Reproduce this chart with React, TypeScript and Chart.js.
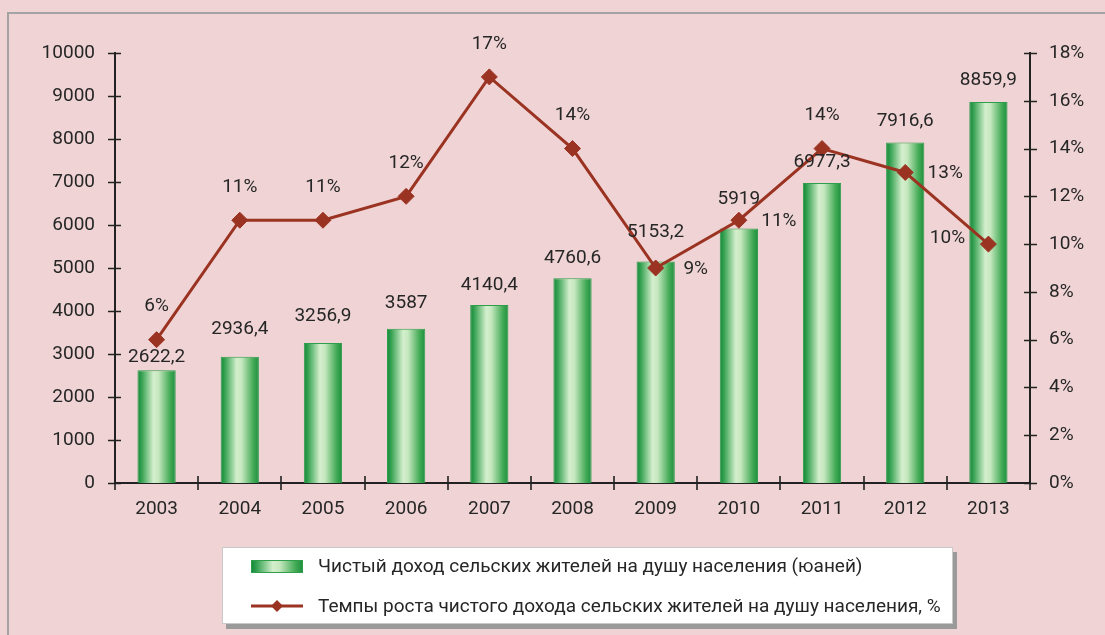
import React, { useEffect, useRef } from 'react';
import { Chart, registerables } from 'chart.js';

Chart.register(...registerables);

// ---------------- data ----------------
const years = ['2003', '2004', '2005', '2006', '2007', '2008', '2009', '2010', '2011', '2012', '2013'];
const incomeValues = [2622.2, 2936.4, 3256.9, 3587, 4140.4, 4760.6, 5153.2, 5919, 6977.3, 7916.6, 8859.9];
const growthValues = [6, 11, 11, 12, 17, 14, 9, 11, 14, 13, 10];
const incomeAxisMax = 10000;
const incomeAxisStep = 1000;
const growthAxisMax = 18;
const growthAxisStep = 2;
const incomeLabel = 'Чистый доход сельских жителей на душу населения (юаней)';
const growthLabel = 'Темпы роста чистого дохода сельских жителей на душу населения, %';

// label placement (layout only)
const barLabelGap = [13, 27, 27, 26, 20, 20, 29, 29, 21, 21, 22];
const growthLabelPlacement = ['above', 'above', 'above', 'above', 'above', 'above', 'right', 'right', 'above', 'right', 'left'];

// ---------------- styles ----------------
const BG = '#f0d4d5';
const TEXT = '#262626';
const LINE = '#9b3322';
const FONT = 'Roboto';
const FS = 19;
const BAR_FRACTION = 0.46;

function barGradient(c: CanvasRenderingContext2D, x0: number, x1: number) {
  const g = c.createLinearGradient(x0, 0, x1, 0);
  g.addColorStop(0, '#128637');
  g.addColorStop(0.12, '#3aa455');
  g.addColorStop(0.42, '#d4efcd');
  g.addColorStop(0.55, '#c6e8bf');
  g.addColorStop(0.85, '#44ab57');
  g.addColorStop(1, '#1c8e3e');
  return g;
}

const fmt = (v: number) => String(v).replace('.', ',');

const framePlugin = {
  id: 'frame',
  beforeDraw(chart: any) {
    const c = chart.ctx as CanvasRenderingContext2D;
    c.save();
    c.fillStyle = BG;
    c.fillRect(0, 0, chart.width, chart.height);
    c.strokeStyle = '#a3a3a3';
    c.lineWidth = 2;
    c.beginPath();
    c.moveTo(8, chart.height + 2);
    c.lineTo(8, 13);
    c.lineTo(chart.width + 2, 13);
    c.stroke();
    c.restore();
  },
};

const ticksPlugin = {
  id: 'crossTicks',
  afterDraw(chart: any) {
    const c = chart.ctx as CanvasRenderingContext2D;
    const x = chart.scales.x;
    const y = chart.scales.y;
    const y1 = chart.scales.y1;
    c.save();
    c.strokeStyle = '#222';
    c.lineWidth = 1.6;
    c.beginPath();
    for (let v = 0; v <= incomeAxisMax; v += incomeAxisStep) {
      const py = Math.round(y.getPixelForValue(v)) + 0.5;
      c.moveTo(y.right - 7, py);
      c.lineTo(y.right + 6, py);
    }
    for (let v = 0; v <= growthAxisMax; v += growthAxisStep) {
      const py = Math.round(y1.getPixelForValue(v)) + 0.5;
      c.moveTo(y1.left - 6, py);
      c.lineTo(y1.left + 7, py);
    }
    const step = (x.right - x.left) / years.length;
    for (let k = 0; k <= years.length; k++) {
      const px = Math.round(x.left + k * step);
      c.moveTo(px, x.top - 7);
      c.lineTo(px, x.top + 7);
    }
    c.stroke();
    c.restore();
  },
};

const labelsPlugin = {
  id: 'valueLabels',
  afterDatasetsDraw(chart: any) {
    const c = chart.ctx as CanvasRenderingContext2D;
    c.save();
    c.font = `${FS}px ${FONT}`;
    c.fillStyle = TEXT;
    c.textAlign = 'center';
    c.textBaseline = 'middle';
    const barMeta = chart.getDatasetMeta(1);
    barMeta.data.forEach((el: any, i: number) => {
      c.fillText(fmt(incomeValues[i]), el.x, el.y - barLabelGap[i]);
    });
    const lineMeta = chart.getDatasetMeta(0);
    lineMeta.data.forEach((el: any, i: number) => {
      const p = growthLabelPlacement[i];
      let dx = 0, dy = -33;
      if (p === 'right') { dx = 40; dy = 1; }
      if (p === 'left') { dx = -41; dy = -6; }
      c.fillText(growthValues[i] + '%', el.x + dx, el.y + dy);
    });
    c.restore();
  },
};

const legendPlugin = {
  id: 'boxLegend',
  afterDraw(chart: any) {
    const c = chart.ctx as CanvasRenderingContext2D;
    const bx = 222, by = 547, bw = 731, bh = 77;
    c.save();
    c.fillStyle = '#9a9a9a';
    c.fillRect(bx + 4, by + 5, bw, bh);
    c.fillStyle = '#ffffff';
    c.fillRect(bx, by, bw, bh);
    c.strokeStyle = '#c9c9c9';
    c.lineWidth = 1;
    c.strokeRect(bx + 0.5, by + 0.5, bw - 1, bh - 1);

    // bar swatch
    c.fillStyle = barGradient(c, 251, 303);
    c.fillRect(251, 560, 52, 13);
    c.strokeStyle = '#2f9e4a';
    c.strokeRect(251.5, 560.5, 51, 12);

    // line swatch
    c.strokeStyle = LINE;
    c.lineWidth = 3;
    c.beginPath();
    c.moveTo(251, 606);
    c.lineTo(303, 606);
    c.stroke();
    c.fillStyle = LINE;
    c.beginPath();
    c.moveTo(277, 600);
    c.lineTo(283, 606);
    c.lineTo(277, 612);
    c.lineTo(271, 606);
    c.closePath();
    c.fill();

    c.fillStyle = TEXT;
    c.font = `${FS}px ${FONT}`;
    c.textAlign = 'left';
    c.textBaseline = 'middle';
    c.fillText(incomeLabel, 318, 567);
    c.fillText(growthLabel, 318, 607);
    c.restore();
  },
};

export default function App() {
  const ref = useRef<HTMLCanvasElement | null>(null);

  useEffect(() => {
    if (!ref.current) return;
    const chart = new Chart(ref.current, {
      type: 'bar',
      data: {
        labels: years,
        datasets: [
          {
            type: 'line',
            label: growthLabel,
            data: growthValues,
            yAxisID: 'y1',
            order: 0,
            borderColor: LINE,
            backgroundColor: LINE,
            borderWidth: 3,
            pointStyle: 'rectRot',
            pointRadius: 8,
            pointBackgroundColor: LINE,
            pointBorderColor: LINE,
            pointBorderWidth: 1,
            tension: 0,
          } as any,
          {
            type: 'bar',
            label: incomeLabel,
            data: incomeValues,
            yAxisID: 'y',
            order: 1,
            categoryPercentage: 1,
            barPercentage: BAR_FRACTION,
            borderColor: '#2f9e4a',
            borderWidth: 1,
            backgroundColor: (ctx: any) => {
              const ch = ctx.chart;
              const xs = ch.scales && ch.scales.x;
              if (!xs || ctx.type !== 'data') return '#3aa455';
              const cx = xs.getPixelForValue(ctx.dataIndex);
              const half = ((xs.right - xs.left) / years.length) * BAR_FRACTION / 2;
              if (!isFinite(cx) || !isFinite(half) || half <= 0) return '#3aa455';
              return barGradient(ch.ctx, cx - half, cx + half);
            },
          } as any,
        ],
      },
      options: {
        responsive: false,
        animation: false,
        devicePixelRatio: 1,
        layout: { padding: { top: 53, bottom: 0, left: 0, right: 0 } },
        font: { family: FONT, size: FS },
        color: TEXT,
        plugins: {
          legend: { display: false },
          tooltip: { enabled: false },
          title: { display: false },
        },
        scales: {
          x: {
            offset: true,
            grid: { display: false, drawTicks: false, tickLength: 0 },
            border: { display: true, color: '#222', width: 2 },
            ticks: { color: TEXT, font: { family: FONT, size: FS }, padding: 15, maxRotation: 0 },
            afterFit: (s: any) => { s.height = 152; },
          },
          y: {
            position: 'left',
            min: 0,
            max: incomeAxisMax,
            grid: { display: false, drawTicks: false, tickLength: 0 },
            border: { display: true, color: '#222', width: 2 },
            ticks: {
              stepSize: incomeAxisStep,
              color: TEXT,
              font: { family: FONT, size: FS },
              padding: 20,
              callback: (v: any) => String(v),
            },
            afterFit: (s: any) => { s.width = 115; },
          },
          y1: {
            position: 'right',
            min: 0,
            max: growthAxisMax,
            grid: { display: false, drawTicks: false, tickLength: 0 },
            border: { display: true, color: '#222', width: 2 },
            ticks: {
              stepSize: growthAxisStep,
              color: TEXT,
              font: { family: FONT, size: FS },
              padding: 19,
              callback: (v: any) => v + '%',
            },
            afterFit: (s: any) => { s.width = 75; },
          },
        },
      } as any,
      plugins: [framePlugin, labelsPlugin, ticksPlugin, legendPlugin],
    });
    return () => chart.destroy();
  }, []);

  return (
    <div style={{ position: 'fixed', left: 0, top: 0, width: 1105, height: 635, background: BG }}>
      <canvas ref={ref} width={1105} height={635} style={{ width: 1105, height: 635, display: 'block' }} />
    </div>
  );
}
